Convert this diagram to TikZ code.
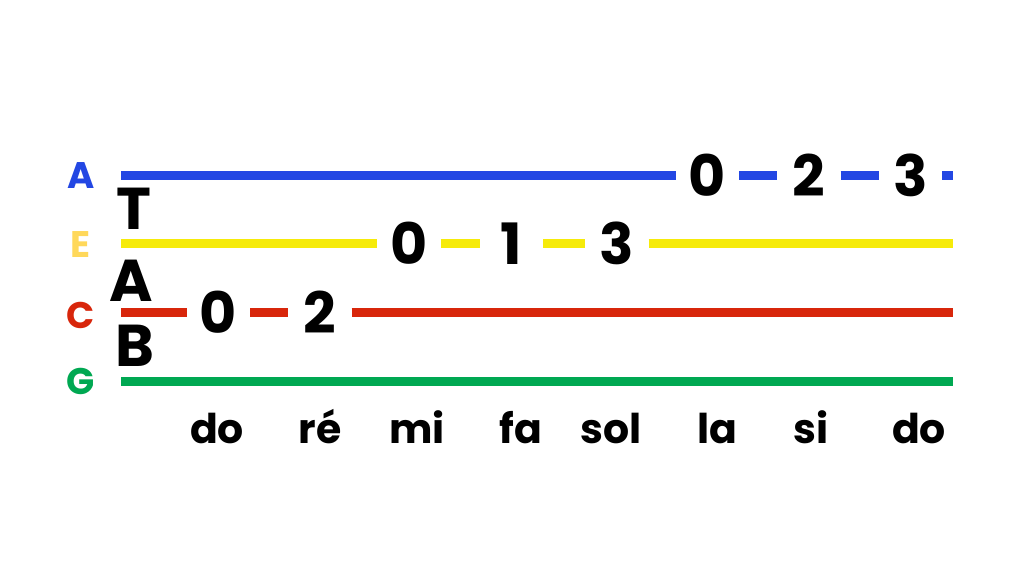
\documentclass[tikz,border=0pt]{standalone}
\usepackage{fontspec}
\setmainfont{Poppins}
\definecolor{sblue}{HTML}{2347E3}
\definecolor{syellow}{HTML}{F6EB0A}
\definecolor{sred}{HTML}{D8260B}
\definecolor{sgreen}{HTML}{00A852}
\definecolor{egold}{HTML}{FFD85A}
\begin{document}
\begin{tikzpicture}[x=1pt,y=-1pt,
  str/.style={line width=9.5pt},
  fret/.style={font=\fontsize{57}{57}\selectfont\bfseries, inner sep=0pt, minimum width=63pt, text=black},
  strname/.style={font=\fontsize{37}{37}\selectfont\bfseries, inner sep=0pt},
  tabletter/.style={font=\fontsize{59}{59}\selectfont\bfseries, inner sep=0pt, text=black},
  solf/.style={font=\fontsize{41}{41}\selectfont\bfseries, inner sep=0pt, anchor=base, text=black}]
\useasboundingbox (0,0) rectangle (1024,576);
\fill[white] (0,0) rectangle (1024,576);

% string names
\node[strname, text=sblue] (nA) at (81,176) {A};
\node[strname, text=egold] (nE) at (81,244.5) {E};
\node[strname, text=sred] (nC) at (81,315) {C};
\node[strname, text=sgreen] (nG) at (81,381) {G};

% TAB
\node[tabletter] (tT) at (133.5,208.5) {T};
\node[tabletter] (tA) at (131,280.5) {A};
\node[tabletter] (tB) at (134.5,346) {B};

% string ends
\coordinate (As) at (121,175.5); \coordinate (Ae) at (953,175.5);
\coordinate (Es) at (121,243.5); \coordinate (Ee) at (953,243.5);
\coordinate (Cs) at (121,312.5); \coordinate (Ce) at (953,312.5);
\coordinate (Gs) at (121,381.5); \coordinate (Ge) at (953,381.5);

% fret numbers
\node[fret] (a0) at (707.5,175.5) {0};
\node[fret] (a2) at (809,175.5) {2};
\node[fret] (a3) at (910.5,175.5) {3};
\node[fret] (e0) at (409,243.5) {0};
\node[fret] (e1) at (511.5,243.5) {1};
\node[fret] (e3) at (617,243.5) {3};
\node[fret] (c0) at (218.5,312.5) {0};
\node[fret] (c2) at (320,312.5) {2};

% strings
\draw[str, sblue] (As) -- (a0) -- (a2) -- (a3) -- (Ae);
\draw[str, syellow] (Es) -- (e0) -- (e1) -- (e3) -- (Ee);
\draw[str, sred] (Cs) -- (c0) -- (c2) -- (Ce);
\draw[str, sgreen] (Gs) -- (Ge);

% solfege
\node[solf] (s1) at (217,443) {do};
\node[solf] (s2) at (320,443) {ré};
\node[solf] (s3) at (417,443) {mi};
\node[solf] (s4) at (521,443) {fa};
\node[solf] (s5) at (611,443) {sol};
\node[solf] (s6) at (717,443) {la};
\node[solf] (s7) at (811,443) {si};
\node[solf] (s8) at (919,443) {do};
\end{tikzpicture}
\end{document}
